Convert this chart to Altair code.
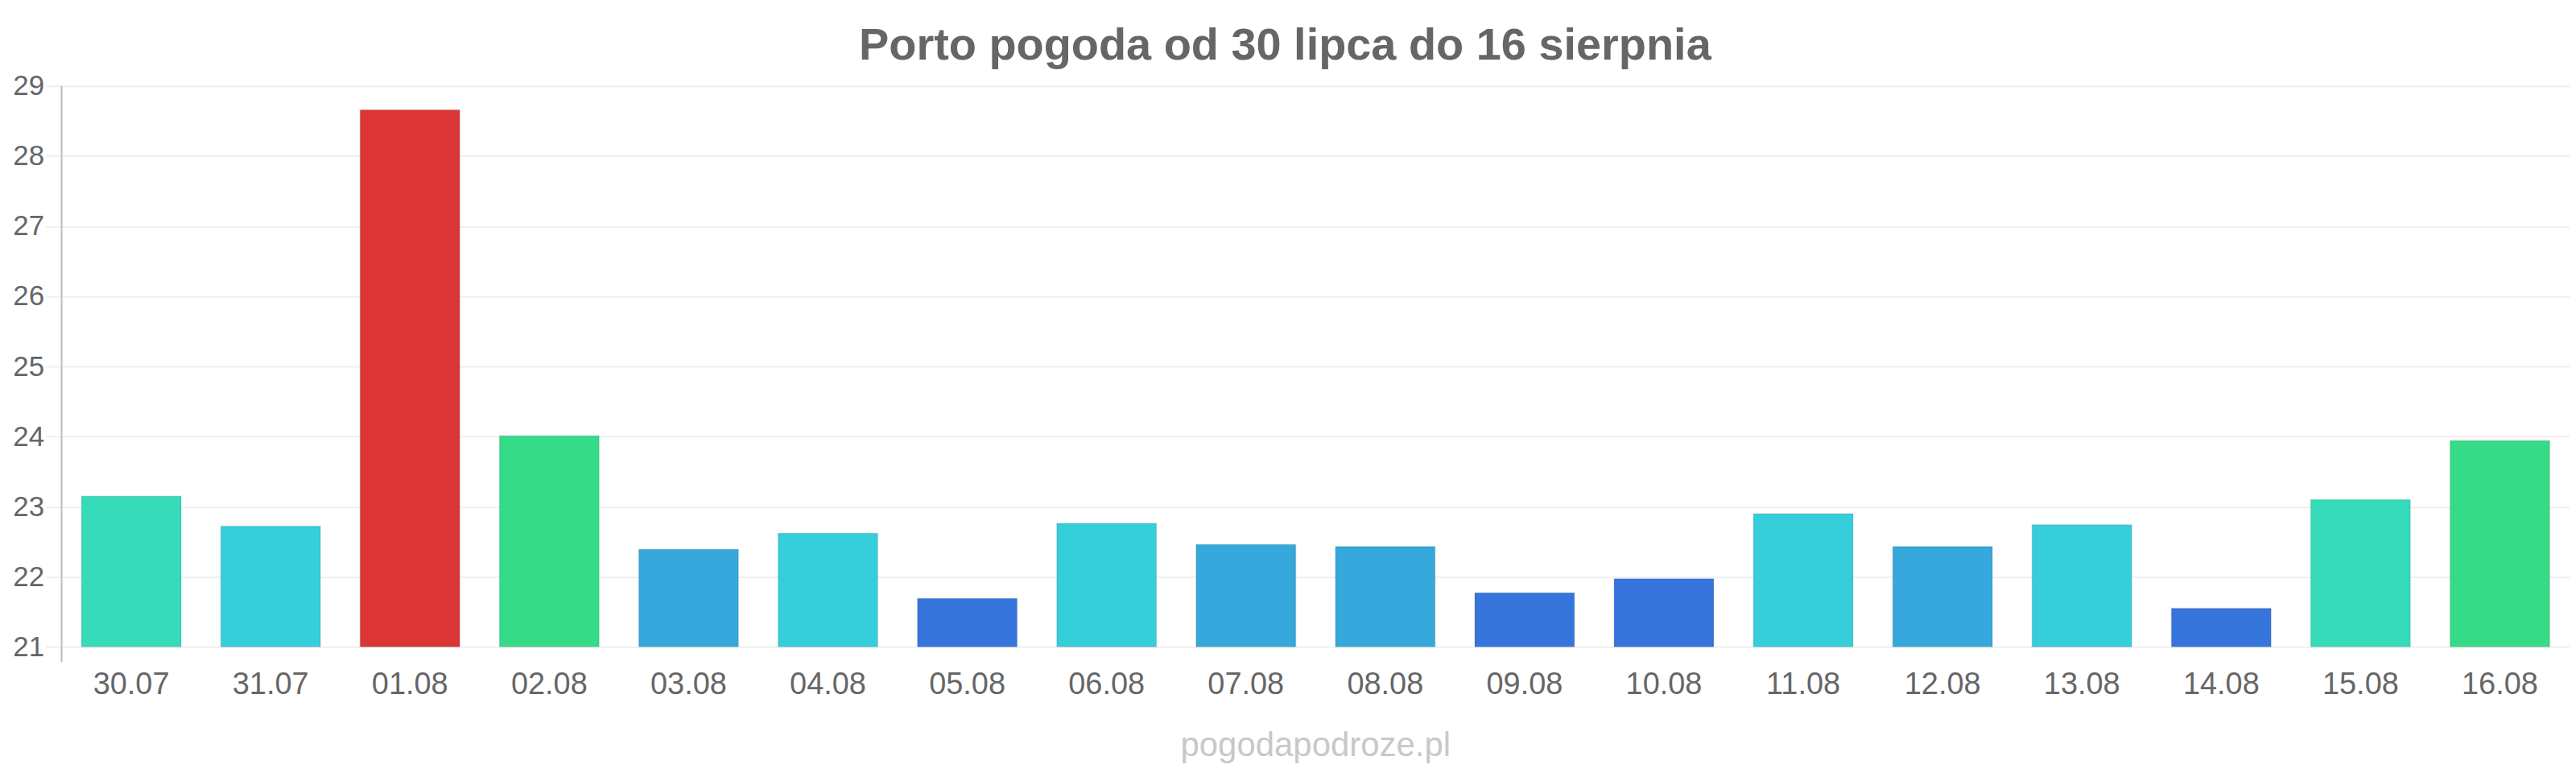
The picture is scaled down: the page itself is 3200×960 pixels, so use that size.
import altair as alt
import pandas as pd

dates = ["30.07", "31.07", "01.08", "02.08", "03.08", "04.08", "05.08", "06.08", "07.08",
         "08.08", "09.08", "10.08", "11.08", "12.08", "13.08", "14.08", "15.08", "16.08"]
temps = [23.15, 22.72, 28.66, 24.01, 22.39, 22.62, 21.69, 22.76, 22.46,
         22.43, 21.77, 21.97, 22.90, 22.43, 22.74, 21.55, 23.10, 23.94]
colors = ["#36dbb9", "#36cedb", "#db3536", "#36db87", "#36a8db", "#36cedb", "#3675db", "#36cedb", "#36a8db",
          "#36a8db", "#3675db", "#3675db", "#36cedb", "#36a8db", "#36cedb", "#3675db", "#36dbb9", "#36db87"]
y_ticks = [21, 22, 23, 24, 25, 26, 27, 28, 29]
title_text = "Porto pogoda od 30 lipca do 16 sierpnia"
watermark_text = "pogodapodroze.pl"

df = pd.DataFrame({"date": dates, "temp": temps, "color": colors})

W, H = 3122, 698
FONT = "Liberation Sans"

bars = alt.Chart(df).mark_bar(stroke="#000000", strokeOpacity=0.07, strokeWidth=2).encode(
    x=alt.X("date:N", sort=dates, title=None,
            scale=alt.Scale(paddingInner=0.285, paddingOuter=0.1425),
            axis=alt.Axis(labelAngle=0, domain=False, ticks=False, tickSize=0, grid=False,
                          labelFontSize=38, labelColor="#666666", labelFont=FONT,
                          labelBaseline="alphabetic", labelPadding=58)),
    y=alt.Y("temp:Q", title=None,
            scale=alt.Scale(domain=[21, 29], nice=False, zero=False),
            axis=alt.Axis(values=y_ticks, domain=False, tickColor="#f0f0f0", tickSize=20, tickWidth=2,
                          labelPadding=2, labelFontSize=35, labelColor="#666666", labelFont=FONT,
                          gridColor="#f0f0f0", gridWidth=2)),
    y2=alt.datum(21),
    fill=alt.Fill("color:N", scale=None, legend=None),
)

axis_line = alt.Chart(pd.DataFrame({"a": [0]})).mark_rule(color="#bbbbbb", strokeWidth=2).encode(
    x=alt.value(0), y=alt.value(0), y2=alt.value(H + 19)
)

title = alt.Chart(pd.DataFrame({"t": [title_text]})).mark_text(
    font=FONT, fontSize=56, fontWeight="bold", color="#666666", baseline="alphabetic", align="center"
).encode(text="t:N", x=alt.value(1523), y=alt.value(-33))

watermark = alt.Chart(pd.DataFrame({"t": [watermark_text]})).mark_text(
    font=FONT, fontSize=42, color="#c8c8c8", baseline="alphabetic", align="center"
).encode(text="t:N", x=alt.value(W / 2), y=alt.value(834))

chart = alt.layer(bars, axis_line, title, watermark).properties(
    width=W, height=H,
    autosize=alt.AutoSizeParams(type="none"),
    padding={"left": 68.7, "top": 98, "right": 0, "bottom": 148},
).configure_view(stroke=None)

chart.save("out.html", embed_options={"renderer": "svg", "actions": False})
